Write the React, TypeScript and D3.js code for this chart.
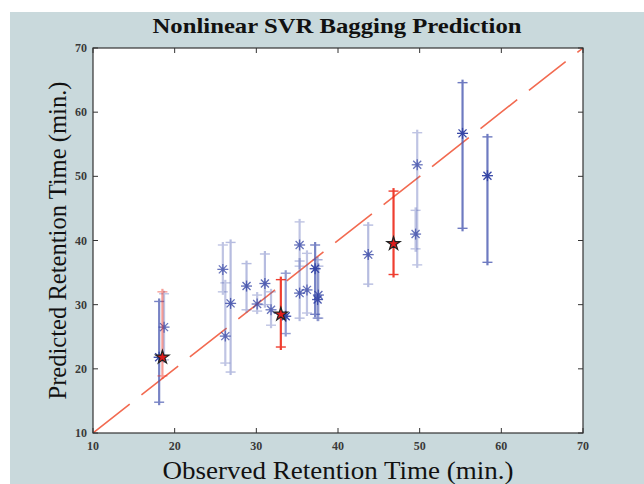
import React from "react";
import * as d3 from "d3";

const W = 644;
const H = 484;

// Blue bagging predictions (observed, predicted, low, high, opacity level)
const obs = [18.1, 18.7, 25.9, 26.2, 26.85, 28.8, 30.1, 31.05, 31.8, 33.6, 35.3, 35.3, 36.2, 37.2, 37.6, 37.5, 43.7, 49.7, 49.5, 55.25, 58.3];
const pred = [21.8, 26.5, 35.5, 25.1, 30.2, 32.9, 30.1, 33.3, 29.2, 28.2, 39.3, 31.8, 32.3, 35.6, 31.5, 30.8, 37.8, 51.8, 41.0, 56.7, 50.1];
const lo = [14.8, 21.4, 32.0, 20.9, 19.5, 29.2, 29.0, 30.0, 26.8, 25.5, 36.0, 27.9, 28.7, 28.5, 27.9, 27.9, 33.2, 36.2, 38.7, 41.9, 36.6];
const hi = [30.5, 31.7, 39.3, 33.4, 39.7, 36.4, 31.5, 37.9, 32.0, 34.9, 42.9, 36.8, 38.0, 39.3, 36.0, 37.0, 42.4, 56.8, 44.7, 64.6, 56.15];
const level = [0.75, 0.35, 0.35, 0.35, 0.4, 0.4, 0.35, 0.4, 0.35, 0.6, 0.35, 0.4, 0.35, 0.75, 0.4, 0.5, 0.4, 0.35, 0.35, 0.8, 0.8];

// Red highlighted points
const redObs = [18.5, 33.0, 46.8];
const redPred = [21.8, 28.5, 39.5];
const redLo = [18.9, 23.4, 34.7];
const redHi = [32.0, 33.9, 47.7];
const redLevel = [0.45, 0.9, 0.9];

const ticks = [10, 20, 30, 40, 50, 60, 70];
const domain = [10, 70];

const title = "Nonlinear SVR Bagging Prediction";
const xLabel = "Observed Retention Time (min.)";
const yLabel = "Predicted Retention Time (min.)";

const L = 93, R = 583, T = 48, B = 433;

export default function App() {
  const x = d3.scaleLinear().domain(domain).range([L, R]);
  const y = d3.scaleLinear().domain(domain).range([B, T]);
  const blue = "#4a5ab2";
  const red = "#ee2a1a";
  const star = d3.symbol().type(d3.symbolStar).size(55)();
  const line = d3.line<number>().x((v) => x(v)).y((v) => y(v));

  const asterisk = (cx: number, cy: number, c: string, key: string) => {
    const r = 5.5, dd = 4;
    return (
      <g key={key} stroke={c} strokeWidth={1.3}>
        <line x1={cx - r} y1={cy} x2={cx + r} y2={cy} />
        <line x1={cx} y1={cy - r} x2={cx} y2={cy + r} />
        <line x1={cx - dd} y1={cy - dd} x2={cx + dd} y2={cy + dd} />
        <line x1={cx - dd} y1={cy + dd} x2={cx + dd} y2={cy - dd} />
        <circle cx={cx} cy={cy} r={2} fill={c} stroke="none" />
      </g>
    );
  };

  const errBar = (xv: number, l: number, h: number, c: string, op: number, key: string) => {
    const px = x(xv);
    const y1 = y(h), y2 = y(l);
    return (
      <g key={key} stroke={c} opacity={op}>
        <line x1={px} y1={y1 - 3} x2={px} y2={y2 + 3} strokeWidth={2.2} />
        <line x1={px - 5} y1={y1} x2={px + 5} y2={y1} strokeWidth={1.4} />
        <line x1={px - 5} y1={y2} x2={px + 5} y2={y2} strokeWidth={1.4} />
      </g>
    );
  };

  return (
    <svg width={W} height={H} style={{ position: "absolute", left: 0, top: 0, background: "#fff" }}>
      <rect x={10} y={12} width={W - 10} height={H - 12} fill="#c9d9dc" />
      <rect x={L} y={T} width={R - L} height={B - T} fill="#fff" />

      <defs>
        <clipPath id="plotclip">
          <rect x={L} y={T} width={R - L} height={B - T} />
        </clipPath>
      </defs>

      <path
        d={line(domain) || ""}
        stroke="#f26a50"
        strokeWidth={1.6}
        strokeDasharray="46.7 14.9"
        fill="none"
        clipPath="url(#plotclip)"
      />

      {obs.map((o, i) => errBar(o, lo[i], hi[i], blue, level[i], "b" + i))}
      {obs.map((o, i) => (
        <g key={"a" + i} opacity={Math.min(1, level[i] + 0.4)}>
          {asterisk(x(o), y(pred[i]), "#3646a6", "as" + i)}
        </g>
      ))}

      {redObs.map((o, i) => errBar(o, redLo[i], redHi[i], red, redLevel[i], "r" + i))}
      {redObs.map((o, i) => (
        <path
          key={"s" + i}
          d={star || ""}
          transform={`translate(${x(o)},${y(redPred[i])})`}
          fill="#e01c1c"
          stroke="#222"
          strokeWidth={1.2}
        />
      ))}

      {/* box */}
      <rect x={L} y={T} width={R - L} height={B - T} fill="none" stroke="#333" strokeWidth={1.2} />
      {ticks.map((t) => (
        <g key={"t" + t} stroke="#333" strokeWidth={1}>
          <line x1={x(t)} y1={B} x2={x(t)} y2={B - 5} />
          <line x1={x(t)} y1={T} x2={x(t)} y2={T + 5} />
          <line x1={L} y1={y(t)} x2={L + 5} y2={y(t)} />
          <line x1={R} y1={y(t)} x2={R - 5} y2={y(t)} />
        </g>
      ))}
      {ticks.map((t) => (
        <text
          key={"xl" + t}
          x={x(t)}
          y={B + 17}
          textAnchor="middle"
          fontFamily="Liberation Serif, serif"
          fontSize={12}
          fontWeight="bold"
          fill="#3a3a3a"
        >
          {t}
        </text>
      ))}
      {ticks.map((t) => (
        <text
          key={"yl" + t}
          x={L - 6}
          y={y(t) + 4}
          textAnchor="end"
          fontFamily="Liberation Serif, serif"
          fontSize={12}
          fontWeight="bold"
          fill="#3a3a3a"
        >
          {t}
        </text>
      ))}

      <text
        x={(L + R) / 2 - 1}
        y={33}
        textAnchor="middle"
        fontFamily="Liberation Serif, serif"
        fontWeight="bold"
        fontSize={22}
        textLength={369}
        lengthAdjust="spacingAndGlyphs"
        fill="#111"
      >
        {title}
      </text>
      <text
        x={(L + R) / 2}
        y={479}
        textAnchor="middle"
        fontFamily="Liberation Serif, serif"
        fontSize={25}
        textLength={351}
        lengthAdjust="spacingAndGlyphs"
        fill="#111"
      >
        {xLabel}
      </text>
      <text
        transform={`translate(66,${(T + B) / 2}) rotate(-90)`}
        textAnchor="middle"
        fontFamily="Liberation Serif, serif"
        fontSize={25}
        textLength={318}
        lengthAdjust="spacingAndGlyphs"
        fill="#111"
      >
        {yLabel}
      </text>
    </svg>
  );
}
